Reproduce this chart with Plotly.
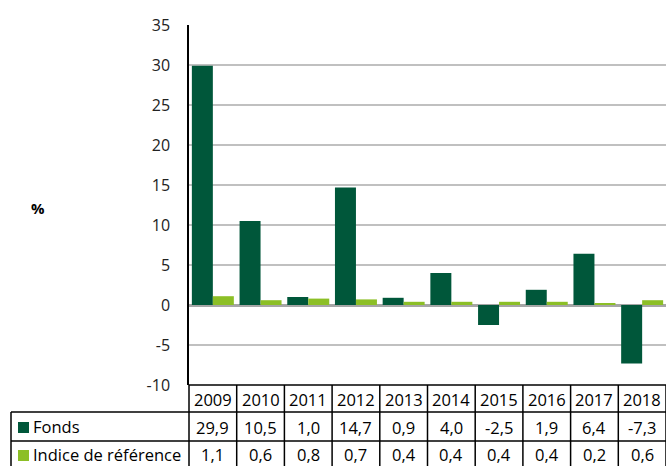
import plotly.graph_objects as go

years = ["2009", "2010", "2011", "2012", "2013", "2014", "2015", "2016", "2017", "2018"]
fonds = [29.9, 10.5, 1.0, 14.7, 0.9, 4.0, -2.5, 1.9, 6.4, -7.3]
indice = [1.1, 0.6, 0.8, 0.7, 0.4, 0.4, 0.4, 0.4, 0.2, 0.6]
series_names = ["Fonds", "Indice de référence"]
y_ticks = [-10, -5, 0, 5, 10, 15, 20, 25, 30, 35]

DARK = "#00573A"
LIGHT = "#8CBF26"
FONT = "Open Sans"

W, H = 666, 466
L, R, T, B = 189, 0, 25, 81
PW = W - L - R
PH = H - T - B


def py(px_y):
    return (H - B - px_y) / PH


def px(px_x):
    return (px_x - L) / PW


def fmt(v):
    return f"{v:.1f}".replace(".", ",")


fig = go.Figure()
fig.add_trace(go.Bar(x=years, y=fonds, name=series_names[0], marker=dict(color=DARK, line=dict(width=0))))
fig.add_trace(go.Bar(x=years, y=indice, name=series_names[1], marker=dict(color=LIGHT, line=dict(width=0))))

shapes = []
n = len(years)
y_top = py(385)
y_r1 = py(412)
y_r2 = py(441)
y_bot = py(470)
line = dict(color="black", width=1.5)
shapes.append(dict(type="line", xref="paper", yref="paper", x0=0, x1=1, y0=y_top, y1=y_top, line=line))
shapes.append(dict(type="line", xref="paper", yref="paper", x0=px(11), x1=1, y0=y_r1, y1=y_r1, line=line))
shapes.append(dict(type="line", xref="paper", yref="paper", x0=px(11), x1=1, y0=y_r2, y1=y_r2, line=line))
shapes.append(dict(type="line", xref="paper", yref="paper", x0=px(11), x1=px(11), y0=y_r1, y1=y_bot, line=line))
for k in range(n + 1):
    xk = k / n
    shapes.append(dict(type="line", xref="paper", yref="paper", x0=xk, x1=xk, y0=y_top, y1=y_bot, line=line))

tfont = dict(size=16.5, color="black", family=FONT)
annotations = []
for i, yr in enumerate(years):
    xc = (i + 0.5) / n
    for text, yc in [(yr, 399), (fmt(fonds[i]), 427), (fmt(indice[i]), 454)]:
        annotations.append(dict(x=xc, xref="paper", y=py(yc), yref="paper", text=text, showarrow=False,
                                font=tfont, xanchor="center", yanchor="middle"))

for name, col, yc in [(series_names[0], DARK, 427), (series_names[1], LIGHT, 455)]:
    shapes.append(dict(type="rect", xref="paper", yref="paper", x0=px(18), x1=px(29),
                       y0=py(yc - 5), y1=py(yc + 6), fillcolor=col, line=dict(width=0)))
    annotations.append(dict(x=px(31), xref="paper", y=py(yc - 1), yref="paper",
                            text=name, showarrow=False,
                            font=tfont, xanchor="left", yanchor="middle"))

annotations.append(dict(x=px(38), xref="paper", y=py(208), yref="paper", text="<b>%</b>", showarrow=False,
                        font=dict(size=15, color="black", family=FONT), xanchor="center", yanchor="middle"))

fig.update_layout(
    width=W, height=H,
    margin=dict(l=L, r=R, t=T, b=B, pad=0),
    paper_bgcolor="white", plot_bgcolor="white",
    barmode="group", bargap=0.12, bargroupgap=0,
    showlegend=False,
    font=dict(family=FONT, size=16, color="black"),
    xaxis=dict(type="category", showticklabels=False, showgrid=False, zeroline=False,
               showline=False, ticks="", range=[-0.5, n - 0.5]),
    yaxis=dict(range=[-10, 35], tickvals=y_ticks, ticktext=[str(v) for v in y_ticks],
               showgrid=True, gridcolor="#C0C0C0", gridwidth=1.5,
               zeroline=True, zerolinecolor="#A6A6A6", zerolinewidth=2.5,
               showline=True, linecolor="black", linewidth=1.5, ticks="",
               ticklabelstandoff=14, tickfont=dict(size=16, color="#222", family=FONT)),
    shapes=shapes,
    annotations=annotations,
)

fig.write_html("out.html", config={"displayModeBar": False},
               post_script="document.body.style.margin='0';document.body.style.overflow='hidden';")
